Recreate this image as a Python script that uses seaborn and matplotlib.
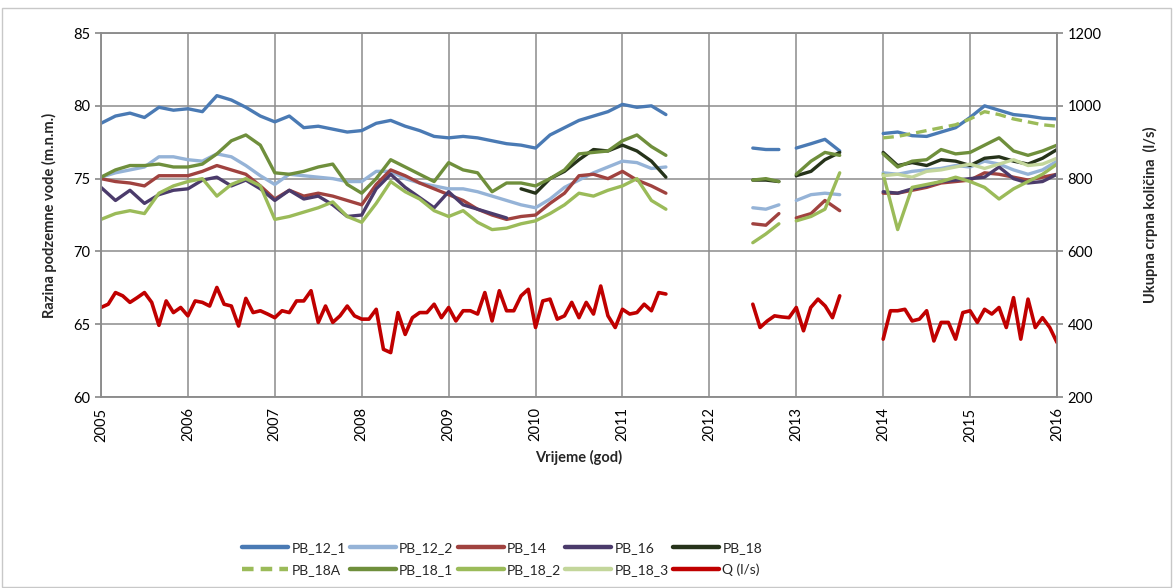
import numpy as np
import pandas as pd
import matplotlib
matplotlib.use("Agg")
import matplotlib.pyplot as plt
from matplotlib.lines import Line2D
from matplotlib.patches import Rectangle
import seaborn as sns

N = None

# time grid in decimal years: levels are read every two months, Q every month
t_lvl = (list(2005 + np.arange(40) / 6)
         + [2012.5, 2012.65, 2012.8]
         + [2013.0, 2013.17, 2013.33, 2013.5]
         + list(2014 + np.arange(13) / 6))
seg_lvl = [1] * 40 + [2] * 3 + [3] * 4 + [4] * 13

t_q = (list(2005 + np.arange(79) / 12)
       + list(2012.5 + np.arange(13) / 12)
       + list(2014 + np.arange(25) / 12))
seg_q = [1] * 79 + [2] * 13 + [3] * 25

# groundwater levels (m a.s.l.)
pb12_1 = [78.8, 79.3, 79.5, 79.2, 79.9, 79.7, 79.8, 79.6, 80.7, 80.4, 79.9, 79.3,
          78.9, 79.3, 78.5, 78.6, 78.4, 78.2, 78.3, 78.8, 79.0, 78.6, 78.3, 77.9,
          77.8, 77.9, 77.8, 77.6, 77.4, 77.3, 77.1, 78.0, 78.5, 79.0, 79.3, 79.6,
          80.1, 79.9, 80.0, 79.4,
          77.1, 77.0, 77.0,
          77.1, 77.4, 77.7, 76.9,
          78.1, 78.2, 77.95, 77.9, 78.2, 78.5, 79.2, 80.0, 79.7, 79.4, 79.3, 79.15, 79.1]
pb12_2 = [75.1, 75.4, 75.6, 75.8, 76.5, 76.5, 76.3, 76.2, 76.7, 76.5, 75.9, 75.2,
          74.6, 75.3, 75.2, 75.1, 75.0, 74.8, 74.8, 75.5, 75.5, 75.0, 74.7, 74.5,
          74.3, 74.3, 74.1, 73.8, 73.5, 73.2, 73.0, 73.6, 74.4, 74.9, 75.4, 75.8,
          76.2, 76.1, 75.7, 75.8,
          73.0, 72.9, 73.2,
          73.5, 73.9, 74.0, 73.9,
          75.4, 75.3, 75.5, 75.6, 75.7, 75.9, 75.8, 76.2, 76.0, 75.6, 75.3, 75.6, 76.2]
pb14 = [75.0, 74.8, 74.7, 74.5, 75.2, 75.2, 75.2, 75.5, 75.9, 75.6, 75.3, 74.5,
        73.6, 74.2, 73.8, 74.0, 73.8, 73.5, 73.2, 74.6, 75.6, 75.2, 74.7, 74.3,
        73.9, 73.5, 72.9, 72.5, 72.2, 72.4, 72.5, 73.3, 74.0, 75.2, 75.3, 75.0,
        75.5, 74.9, 74.5, 74.0,
        71.9, 71.8, 72.6,
        72.3, 72.6, 73.5, 72.8,
        74.0, 74.0, 74.2, 74.4, 74.7, 74.8, 74.9, 75.4, 75.3, 75.1, 74.9, 75.1, 75.3]
pb16 = [74.4, 73.5, 74.2, 73.3, 73.9, 74.2, 74.3, 74.9, 75.1, 74.5, 74.9, 74.3,
        73.5, 74.2, 73.6, 73.8, 73.2, 72.4, 72.5, 74.3, 75.3, 74.4, 73.7, 73.0,
        74.1, 73.2, 72.9, 72.6, 72.3, N, N, N, N, N, N, N,
        N, N, N, N,
        N, N, N,
        N, N, N, N,
        74.1, 74.0, 74.3, 74.5, 74.8, 74.9, 75.0, 75.1, 75.8, 75.0, 74.7, 74.8, 75.3]
pb18 = [N, N, N, N, N, N, N, N, N, N, N, N,
        N, N, N, N, N, N, N, N, N, N, N, N,
        N, N, N, N, N, 74.3, 74.0, 75.0, 75.5, 76.3, 77.0, 76.9,
        77.3, 76.9, 76.2, 75.1,
        74.9, 74.9, 74.8,
        75.2, 75.5, 76.3, 76.8,
        76.8, 75.9, 76.1, 75.9, 76.3, 76.2, 75.9, 76.4, 76.5, 76.2, 76.0, 76.4, 77.0]
pb18a = [N] * 47 + [77.8, 77.9, 78.1, 78.3, 78.5, 78.7, 79.1, 79.6, 79.4, 79.1, 78.9, 78.7, 78.6]
pb18_1 = [75.1, 75.6, 75.9, 75.9, 76.0, 75.8, 75.8, 76.0, 76.7, 77.6, 78.0, 77.3,
          75.4, 75.3, 75.5, 75.8, 76.0, 74.6, 74.0, 75.0, 76.3, 75.8, 75.3, 74.8,
          76.1, 75.6, 75.4, 74.1, 74.7, 74.7, 74.5, 75.0, 75.6, 76.7, 76.8, 76.9,
          77.6, 78.0, 77.2, 76.6,
          74.9, 75.0, 74.8,
          75.3, 76.2, 76.8, 76.6,
          76.7, 75.8, 76.2, 76.3, 77.0, 76.7, 76.8, 77.3, 77.8, 76.9, 76.6, 76.9, 77.3]
pb18_2 = [72.2, 72.6, 72.8, 72.6, 74.0, 74.5, 74.8, 75.0, 73.8, 74.6, 75.0, 74.5,
          72.2, 72.4, 72.7, 73.0, 73.4, 72.4, 72.0, 73.3, 74.8, 74.1, 73.6, 72.8,
          72.4, 72.8, 72.0, 71.5, 71.6, 71.9, 72.1, 72.6, 73.2, 74.0, 73.8, 74.2,
          74.5, 75.0, 73.5, 72.9,
          70.6, 71.2, 71.9,
          72.1, 72.4, 72.9, 75.4,
          75.3, 71.5, 74.4, 74.6, 74.8, 75.1, 74.8, 74.4, 73.6, 74.3, 74.8, 75.3, 76.0]
pb18_3 = [N] * 47 + [75.2, 75.3, 75.1, 75.5, 75.6, 75.8, 76.0, 75.7, 76.0, 76.3, 75.9, 76.0, 76.4]

# total pumped quantity Q (l/s)
q_ls = [446, 455, 487, 478, 460, 473, 487, 460, 397, 464, 432, 446,
        423, 464, 460, 450, 501, 455, 450, 395, 471, 432, 437, 428,
        418, 437, 432, 464, 464, 492, 405, 450, 405, 423, 450, 423,
        414, 414, 441, 331, 322, 432, 372, 418, 432, 432, 455, 418,
        446, 409, 437, 437, 428, 487, 409, 492, 437, 437, 478, 496,
        391, 464, 469, 414, 423, 460, 418, 460, 428, 505, 423, 391,
        441, 428, 432, 455, 437, 487, 483,
        455, 391, 409, 423, 420, 418, 446, 382, 446, 469, 450, 418, 478,
        359, 437, 437, 441, 409, 414, 437, 354, 405, 405, 359, 432,
        437, 405, 441, 428, 446, 391, 473, 359, 469, 391, 418, 391, 350]

names = ["PB_12_1", "PB_12_2", "PB_14", "PB_16", "PB_18",
         "PB_18A", "PB_18_1", "PB_18_2", "PB_18_3"]
colors = {"PB_12_1": "#4a7ab4", "PB_12_2": "#95b3d7", "PB_14": "#a0423f",
          "PB_16": "#4b3b6b", "PB_18": "#26331a", "PB_18A": "#9bbb59",
          "PB_18_1": "#6f8f3c", "PB_18_2": "#9bbb59", "PB_18_3": "#c3d69b"}
q_color = "#c00000"
dashes = {n: "" for n in names}
dashes["PB_18A"] = (3.2, 1.8)

wide = pd.DataFrame({"t": t_lvl, "seg": seg_lvl, "PB_12_1": pb12_1, "PB_12_2": pb12_2,
                     "PB_14": pb14, "PB_16": pb16, "PB_18": pb18, "PB_18A": pb18a,
                     "PB_18_1": pb18_1, "PB_18_2": pb18_2, "PB_18_3": pb18_3})
df = wide.melt(id_vars=["t", "seg"], var_name="series", value_name="value").dropna()
df["value"] = df["value"].astype(float)
qdf = pd.DataFrame({"t": t_q, "seg": seg_q, "q": q_ls})

sns.set_theme(style="white")
plt.rcParams["font.family"] = ["Lato", "DejaVu Sans"]

grid_c = "#8c8c8c"
fig = plt.figure(figsize=(11.73, 5.88), dpi=100)
ax = fig.add_axes([0.0861, 0.3248, 0.8150, 0.6190])

sns.lineplot(data=df, x="t", y="value", hue="series", style="series",
             hue_order=names, style_order=names, palette=colors, dashes=dashes,
             units="seg", estimator=None, lw=2.4, legend=False, ax=ax)

ax2 = ax.twinx()
sns.lineplot(data=qdf, x="t", y="q", units="seg", estimator=None,
             color=q_color, lw=2.6, legend=False, ax=ax2)

ax.set_xlim(2005, 2016)
ax.set_ylim(60, 85)
ax.set_xticks(range(2005, 2017))
ax.set_yticks(range(60, 86, 5))
ax2.set_ylim(200, 1200)
ax2.set_yticks(range(200, 1201, 200))
ax.grid(True, color=grid_c, lw=1.1)
ax.set_axisbelow(True)
ax2.grid(False)

for a in (ax, ax2):
    for s in a.spines.values():
        s.set_color(grid_c)
        s.set_linewidth(1.1)
    a.tick_params(length=4, color=grid_c, labelsize=10.5, labelcolor="#000000")
plt.setp(ax.get_xticklabels(), rotation=90)

ax.set_xlabel("Vrijeme (god)", fontsize=10.5, fontweight="bold", labelpad=6)
ax.set_ylabel("Razina podzemne vode (m.n.m.)", fontsize=10.5, fontweight="bold", labelpad=12)
ax2.set_ylabel("Ukupna crpna količina  (l/s)", fontsize=10.5, fontweight="bold",
               rotation=90, labelpad=30)

# legend laid out as two rows of five
order = ["PB_12_1", "PB_18A", "PB_12_2", "PB_18_1", "PB_14", "PB_18_2",
         "PB_16", "PB_18_3", "PB_18", "Q (l/s)"]
handles = []
for n in order:
    if n == "Q (l/s)":
        handles.append(Line2D([], [], color=q_color, lw=3.2))
    elif n == "PB_18A":
        handles.append(Line2D([], [], color=colors[n], lw=3.2, dashes=(2.6, 1.6)))
    else:
        handles.append(Line2D([], [], color=colors[n], lw=3.2))
fig.legend(handles, order, ncol=5, loc="center", bbox_to_anchor=(0.428, 0.049),
           frameon=False, fontsize=10, handlelength=3.3, handletextpad=0.25,
           columnspacing=0.3, labelspacing=0.7)

fig.add_artist(Rectangle((0.002, 0.002), 0.996, 0.984, transform=fig.transFigure,
                         fill=False, ec="#c8c8c8", lw=1))

fig.savefig("out.png", dpi=100)
